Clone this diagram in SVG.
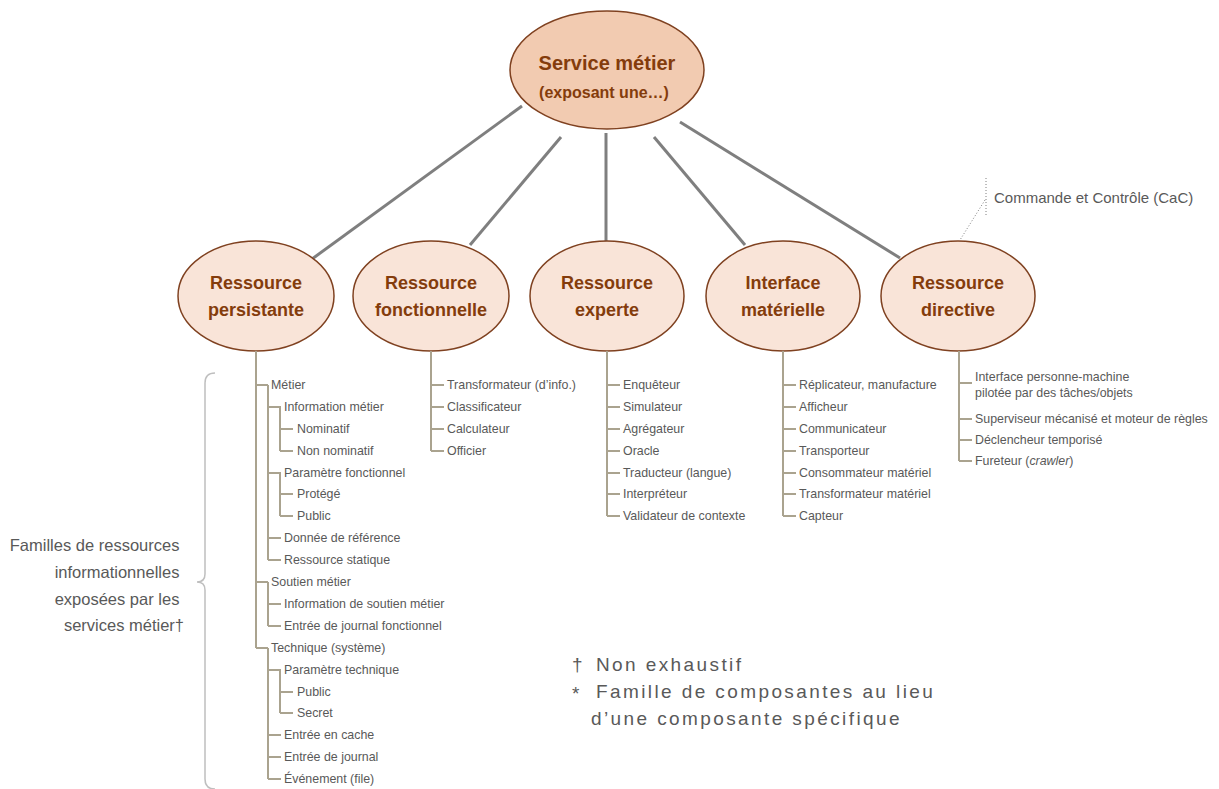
<svg xmlns="http://www.w3.org/2000/svg" width="1219" height="789" viewBox="0 0 1219 789">
  <style>
    .bg { fill: #ffffff; }
    .link { stroke: #7f7f7f; stroke-width: 3; fill: none; }
    .tree { stroke: #aaa38f; stroke-width: 2; fill: none; }
    .root { fill: #f2cbb1; stroke: #7f4120; stroke-width: 1.5; }
    .node { fill: #f9e4d8; stroke: #7f4120; stroke-width: 1.5; }
    .title { font-family: "Liberation Sans", Arial, sans-serif; font-weight: bold; fill: #843c0c; text-anchor: middle; }
    .item { font-family: "Liberation Sans", Arial, sans-serif; font-size: 12.4px; fill: #595959; }
    .note { font-family: "Liberation Sans", Arial, sans-serif; fill: #595959; }
    .brace { stroke: #bfbfbf; stroke-width: 1.5; fill: none; }
    .dots { stroke: #7f7f7f; stroke-width: 1; stroke-dasharray: 1 2; fill: none; }
  </style>
  <rect class="bg" width="1219" height="789"/>

  <!-- links from the service to each resource kind -->
  <g id="connectors">
    <line class="link" x1="522" y1="106" x2="312" y2="259"/>
    <line class="link" x1="561" y1="137" x2="470" y2="245"/>
    <line class="link" x1="606" y1="133" x2="606" y2="241"/>
    <line class="link" x1="654" y1="137" x2="745" y2="245"/>
    <line class="link" x1="680" y1="122" x2="900" y2="258"/>
  </g>

  <g id="service">
    <ellipse class="root" cx="607" cy="70" rx="97" ry="59"/>
    <text class="title" x="607" y="70" font-size="20">Service métier</text>
    <text class="title" x="604" y="98" font-size="16">(exposant une…)</text>
  </g>

  <g id="persistante">
    <ellipse class="node" cx="256" cy="296" rx="78" ry="55"/>
    <text class="title" x="256" y="289" font-size="18">Ressource</text>
    <text class="title" x="256" y="316" font-size="18">persistante</text>
  </g>
  <g id="fonctionnelle">
    <ellipse class="node" cx="431" cy="296" rx="78" ry="55"/>
    <text class="title" x="431" y="289" font-size="18">Ressource</text>
    <text class="title" x="431" y="316" font-size="18">fonctionnelle</text>
  </g>
  <g id="experte">
    <ellipse class="node" cx="607" cy="296" rx="77" ry="55"/>
    <text class="title" x="607" y="289" font-size="18">Ressource</text>
    <text class="title" x="607" y="316" font-size="18">experte</text>
  </g>
  <g id="materielle">
    <ellipse class="node" cx="783" cy="296" rx="77" ry="55"/>
    <text class="title" x="783" y="289" font-size="18">Interface</text>
    <text class="title" x="783" y="316" font-size="18">matérielle</text>
  </g>
  <g id="directive">
    <ellipse class="node" cx="958" cy="296" rx="77" ry="55"/>
    <text class="title" x="958" y="289" font-size="18">Ressource</text>
    <text class="title" x="958" y="316" font-size="18">directive</text>
  </g>

  <!-- Commande et Contrôle annotation -->
  <g id="cac">
    <path class="dots" d="M986 178 V217 M985 200 L960 240"/>
    <text class="note" x="994" y="203" font-size="15">Commande et Contrôle (CaC)</text>
  </g>

  <!-- persistent resource families -->
  <g id="liste-persistante">
    <path class="tree" d="M256 351 V648
      M256 385 H268 M256 582 H268 M256 648 H268
      M268 385 V560 M268 407 H281 M268 473 H281 M268 538 H281 M268 560 H281
      M280 407 V451 M280 429 H293 M280 451 H293
      M280 473 V516 M280 494 H293 M280 516 H293
      M268 582 V626 M268 604 H281 M268 626 H281
      M268 648 V779 M268 670 H281 M268 735 H281 M268 757 H281 M268 779 H281
      M280 670 V713 M280 692 H293 M280 713 H293"/>
    <text class="item" x="271" y="389">Métier</text>
    <text class="item" x="284" y="411">Information métier</text>
    <text class="item" x="297" y="433">Nominatif</text>
    <text class="item" x="297" y="455">Non nominatif</text>
    <text class="item" x="284" y="477">Paramètre fonctionnel</text>
    <text class="item" x="297" y="498">Protégé</text>
    <text class="item" x="297" y="520">Public</text>
    <text class="item" x="284" y="542">Donnée de référence</text>
    <text class="item" x="284" y="564">Ressource statique</text>
    <text class="item" x="271" y="586">Soutien métier</text>
    <text class="item" x="284" y="608">Information de soutien métier</text>
    <text class="item" x="284" y="630">Entrée de journal fonctionnel</text>
    <text class="item" x="271" y="652">Technique (système)</text>
    <text class="item" x="284" y="674">Paramètre technique</text>
    <text class="item" x="297" y="696">Public</text>
    <text class="item" x="297" y="717">Secret</text>
    <text class="item" x="284" y="739">Entrée en cache</text>
    <text class="item" x="284" y="761">Entrée de journal</text>
    <text class="item" x="284" y="783">Événement (file)</text>
  </g>

  <g id="liste-fonctionnelle">
    <path class="tree" d="M431 351 V451 M431 385 H444 M431 407 H444 M431 429 H444 M431 451 H444"/>
    <text class="item" x="447" y="389">Transformateur (d’info.)</text>
    <text class="item" x="447" y="411">Classificateur</text>
    <text class="item" x="447" y="433">Calculateur</text>
    <text class="item" x="447" y="455">Officier</text>
  </g>

  <g id="liste-experte">
    <path class="tree" d="M607 351 V516 M607 385 H620 M607 407 H620 M607 429 H620 M607 451 H620 M607 473 H620 M607 494 H620 M607 516 H620"/>
    <text class="item" x="623" y="389">Enquêteur</text>
    <text class="item" x="623" y="411">Simulateur</text>
    <text class="item" x="623" y="433">Agrégateur</text>
    <text class="item" x="623" y="455">Oracle</text>
    <text class="item" x="623" y="477">Traducteur (langue)</text>
    <text class="item" x="623" y="498">Interpréteur</text>
    <text class="item" x="623" y="520">Validateur de contexte</text>
  </g>

  <g id="liste-materielle">
    <path class="tree" d="M783 351 V516 M783 385 H796 M783 407 H796 M783 429 H796 M783 451 H796 M783 473 H796 M783 494 H796 M783 516 H796"/>
    <text class="item" x="799" y="389">Réplicateur, manufacture</text>
    <text class="item" x="799" y="411">Afficheur</text>
    <text class="item" x="799" y="433">Communicateur</text>
    <text class="item" x="799" y="455">Transporteur</text>
    <text class="item" x="799" y="477">Consommateur matériel</text>
    <text class="item" x="799" y="498">Transformateur matériel</text>
    <text class="item" x="799" y="520">Capteur</text>
  </g>

  <g id="liste-directive">
    <path class="tree" d="M959 351 V461 M959 383 H972 M959 419 H972 M959 440 H972 M959 461 H972"/>
    <text class="item" x="975" y="381">Interface personne-machine</text>
    <text class="item" x="975" y="397">pilotée par des tâches/objets</text>
    <text class="item" x="975" y="423">Superviseur mécanisé et moteur de règles</text>
    <text class="item" x="975" y="444">Déclencheur temporisé</text>
    <text class="item" x="975" y="465">Fureteur (<tspan font-style="italic">crawler</tspan>)</text>
  </g>

  <!-- brace and caption on the left -->
  <g id="familles">
    <path class="brace" d="M215 373 Q205 373 205 383 V574 Q205 582 197 582 Q205 582 205 590 V779 Q205 789 215 789"/>
    <text class="note" font-size="16.5" text-anchor="end">
      <tspan x="184" y="551">Familles de ressources</tspan>
      <tspan x="184" y="578">informationnelles</tspan>
      <tspan x="184" y="605">exposées par les</tspan>
      <tspan x="184" y="631">services métier†</tspan>
    </text>
  </g>

  <!-- legend -->
  <g id="legende" class="note" font-size="19">
    <text x="572" y="671">†</text>
    <text x="572" y="700">*</text>
    <text letter-spacing="2.4">
      <tspan x="596" y="671">Non exhaustif</tspan>
      <tspan x="596" y="698">Famille de composantes au lieu</tspan>
      <tspan x="591" y="725">d’une composante spécifique</tspan>
    </text>
  </g>
</svg>
